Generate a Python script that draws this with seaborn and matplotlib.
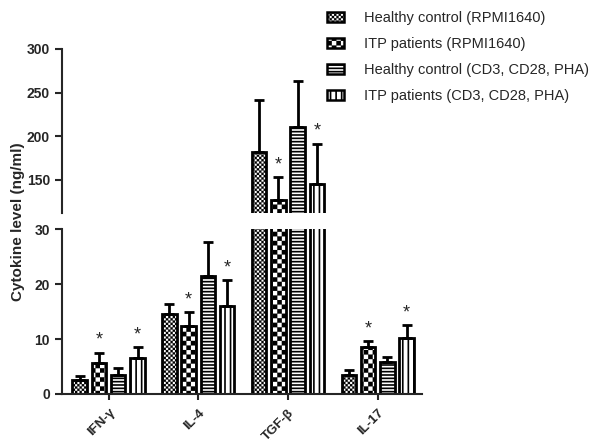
import warnings
warnings.filterwarnings("ignore")
import matplotlib
matplotlib.use("Agg")
import matplotlib.pyplot as plt
import matplotlib.patches as mpatches
import matplotlib.hatch as mhatch
from matplotlib.legend_handler import HandlerPatch
from matplotlib.path import Path
import seaborn as sns
import pandas as pd
import numpy as np

cytokines = ["IFN-γ", "IL-4", "TGF-β", "IL-17"]
conditions = ["Healthy control (RPMI1640)", "ITP patients (RPMI1640)",
              "Healthy control (CD3, CD28, PHA)", "ITP patients (CD3, CD28, PHA)"]
hc_rpmi = [2.5, 14.6, 182, 3.4]
hc_rpmi_err = [0.8, 1.8, 59, 0.9]
itp_rpmi = [5.7, 12.4, 127, 8.5]
itp_rpmi_err = [1.8, 2.5, 26, 1.1]
hc_cd3 = [3.5, 21.6, 211, 5.8]
hc_cd3_err = [1.2, 6.1, 52, 1.0]
itp_cd3 = [6.6, 16.0, 145, 10.2]
itp_cd3_err = [1.9, 4.7, 46, 2.3]
significant = [False, True, False, True]  # star above ITP bars

values = [hc_rpmi, itp_rpmi, hc_cd3, itp_cd3]
errors = [hc_rpmi_err, itp_rpmi_err, hc_cd3_err, itp_cd3_err]
rows = []
for cond, vals in zip(conditions, values):
    for cyt, v in zip(cytokines, vals):
        rows.append({"cytokine": cyt, "condition": cond, "value": v})
df = pd.DataFrame(rows)


# custom checkerboard hatch ('c' = coarse, 'cc' = fine)
class CheckerHatch(mhatch.HatchPatternBase):
    def __init__(self, hatch, density):
        k = hatch.count("c")
        self.n = 22 * k if k else 0
        self.num_vertices = (self.n * self.n // 2) * 5 if self.n else 0

    def set_vertices_and_codes(self, vertices, codes):
        n = self.n
        idx = 0
        for i in range(n):
            for j in range(n):
                if (i + j) % 2:
                    continue
                x0, y0 = i / n, j / n
                x1, y1 = (i + 1) / n, (j + 1) / n
                vertices[idx:idx + 5] = [(x0, y0), (x1, y0), (x1, y1), (x0, y1), (x0, y0)]
                codes[idx:idx + 5] = [Path.MOVETO, Path.LINETO, Path.LINETO,
                                      Path.LINETO, Path.CLOSEPOLY]
                idx += 5


mhatch._hatch_types.append(CheckerHatch)

sns.set_style("ticks")
plt.rcParams["font.family"] = ["Liberation Sans", "DejaVu Sans"]
plt.rcParams["hatch.linewidth"] = 1.2
plt.rcParams["hatch.color"] = "black"

hatches = ["cc", "c", "-----", "|||"]
hatch_lw = [0.1, 0.1, 1.2, 1.2]


def style_patch(p, i):
    p.set_hatch(hatches[i])
    p.set_edgecolor("black")
    if hasattr(p, "set_hatch_linewidth"):
        p.set_hatch_linewidth(hatch_lw[i])


fig = plt.figure(figsize=(6.13, 4.47), dpi=100)
ax_top = fig.add_axes([0.101, 0.5235, 0.587, 0.3669])
ax_bot = fig.add_axes([0.101, 0.1186, 0.587, 0.368])

for ax in (ax_top, ax_bot):
    sns.barplot(data=df, x="cytokine", y="value", hue="condition", ax=ax,
                errorbar=None, gap=0.25, width=0.86,
                palette=["white"] * 4, edgecolor="black", linewidth=2,
                legend=False, order=cytokines, hue_order=conditions)
    bar_containers = list(ax.containers)
    for i, cont in enumerate(bar_containers):
        xs = []
        for p in cont.patches:
            style_patch(p, i)
            xs.append(p.get_x() + p.get_width() / 2)
        xs = np.array(xs)
        ax.errorbar(xs, values[i], yerr=[np.zeros(4), errors[i]], fmt="none",
                    ecolor="black", elinewidth=2, capsize=3.5, capthick=2, zorder=1)
        if significant[i]:
            for x, v, e in zip(xs, values[i], errors[i]):
                ax.annotate("*", xy=(x, v + e), xytext=(0, 3), textcoords="offset points",
                            ha="center", va="bottom", fontsize=13)
    ax.set_xlim(-0.52, 3.49)
    ax.set_xlabel("")
    ax.set_ylabel("")
    ax.spines["top"].set_visible(False)
    ax.spines["right"].set_visible(False)
    ax.spines["left"].set_linewidth(1.5)
    ax.tick_params(axis="y", width=1.5, length=5, labelsize=10)

ax_top.set_ylim(112, 300)
ax_top.set_yticks([150, 200, 250, 300])
ax_top.spines["bottom"].set_visible(False)
ax_top.tick_params(axis="x", bottom=False, labelbottom=False)
for lab in ax_top.get_yticklabels():
    lab.set_fontweight("bold")

ax_bot.set_ylim(0, 30)
ax_bot.set_yticks([0, 10, 20, 30])
for lab in ax_bot.get_yticklabels():
    lab.set_fontweight("bold")
ax_bot.spines["bottom"].set_linewidth(1.5)
ax_bot.tick_params(axis="x", width=1.5, length=4, labelsize=9.5, pad=5)
ax_bot.set_xticks(range(len(cytokines)))
ax_bot.set_xticklabels(cytokines, rotation=45, ha="right", rotation_mode="anchor",
                       fontweight="bold")

fig.text(0.03, 0.505, "Cytokine level (ng/ml)", rotation=90, ha="center", va="center",
         fontsize=11, fontweight="bold")

handles = []
for i in range(4):
    h = mpatches.Patch(facecolor="white", edgecolor="black", linewidth=1.8)
    style_patch(h, i)
    handles.append(h)


def make_legend_patch(legend, orig_handle, xdescent, ydescent, width, height, fontsize):
    r = mpatches.Rectangle((-xdescent, -ydescent), width, height)
    if hasattr(r, "set_hatch_linewidth") and hasattr(orig_handle, "get_hatch_linewidth"):
        r.set_hatch_linewidth(orig_handle.get_hatch_linewidth())
    return r


fig.legend(handles, conditions, loc="upper left", bbox_to_anchor=(0.512, 1.005),
           frameon=False, fontsize=10.5, handlelength=1.15, handleheight=0.7,
           labelspacing=0.83, handletextpad=1.4,
           handler_map={mpatches.Patch: HandlerPatch(patch_func=make_legend_patch)})

fig.savefig("out.png", dpi=100)
